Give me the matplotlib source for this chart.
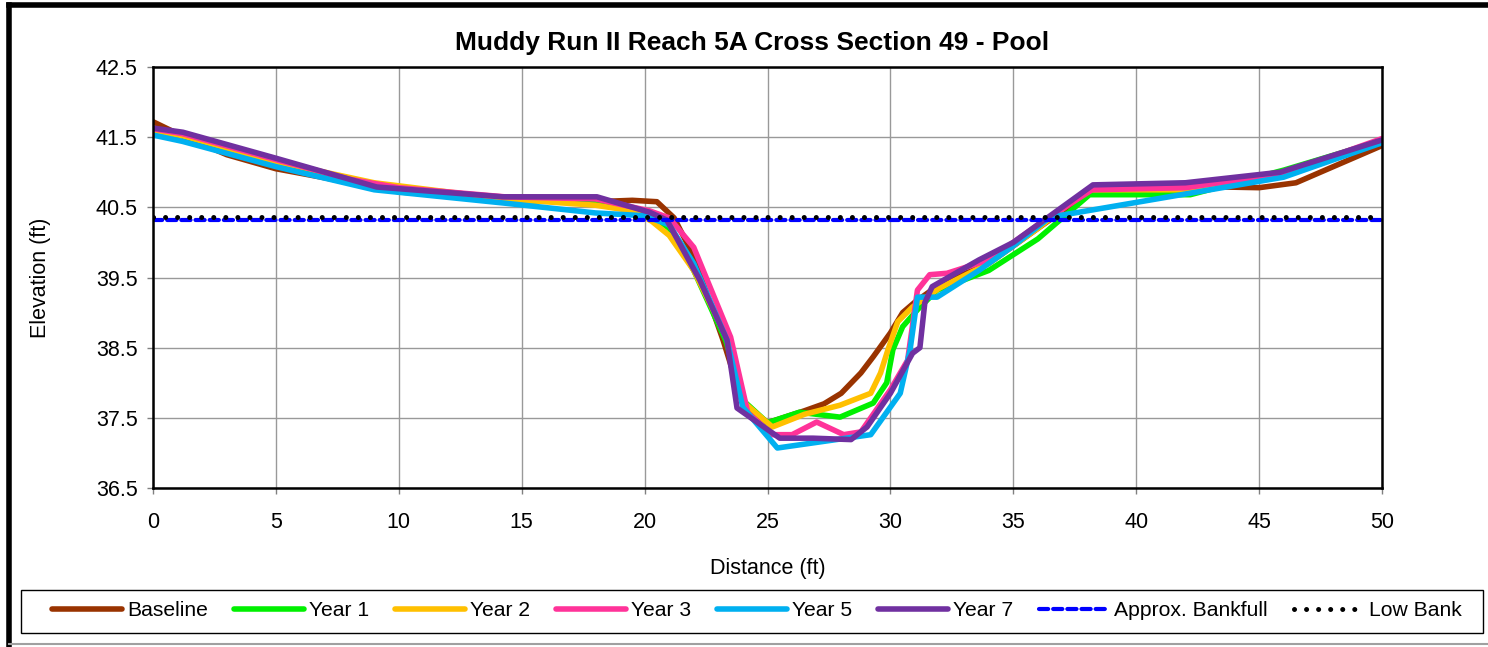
import matplotlib
matplotlib.use('Agg')
import matplotlib.pyplot as plt
from matplotlib.lines import Line2D
from matplotlib.patches import Rectangle

plt.rcParams['font.family'] = ['Liberation Sans', 'DejaVu Sans']

TITLE = 'Muddy Run II Reach 5A Cross Section 49 - Pool'

# station (ft) / elevation (ft) pairs for each survey
base_x = [0, 1, 3, 5, 7, 9, 12, 15, 18, 19.5, 20.5, 21.2, 22, 23.2, 24, 25, 26.5, 27.3, 28,
          28.8, 29.3, 30, 30.5, 31, 32, 34, 36, 38.2, 42, 45, 46.5, 50]
base_y = [41.72, 41.55, 41.25, 41.05, 40.92, 40.78, 40.68, 40.6, 40.58, 40.6, 40.58, 40.35,
          39.8, 38.6, 37.7, 37.43, 37.6, 37.7, 37.85, 38.14, 38.37, 38.71, 39.0, 39.15, 39.4,
          39.7, 40.2, 40.75, 40.8, 40.78, 40.85, 41.38]

y1_x = [0, 1.2, 5, 8, 10, 14.3, 18, 20, 21, 22, 23.3, 24, 25, 26.3, 27.95, 29.3, 29.85, 30.1,
        30.5, 31.1, 31.9, 34, 36, 38.1, 42.2, 46, 50]
y1_y = [41.6, 41.52, 41.15, 40.88, 40.72, 40.6, 40.58, 40.45, 40.2, 39.6, 38.6, 37.75, 37.43,
        37.58, 37.51, 37.71, 38.0, 38.47, 38.8, 39.04, 39.32, 39.6, 40.05, 40.68, 40.68,
        41.03, 41.45]

y2_x = [0, 1.2, 5, 9, 14.3, 18, 19.5, 20.3, 21, 22, 23.4, 24.1, 25.2, 26.5, 27.95, 29.2,
        29.6, 29.9, 30.3, 30.9, 32, 34, 36, 38, 42, 46, 50]
y2_y = [41.6, 41.52, 41.15, 40.85, 40.62, 40.53, 40.45, 40.3, 40.1, 39.6, 38.6, 37.7, 37.37,
        37.55, 37.68, 37.85, 38.14, 38.47, 38.87, 39.08, 39.35, 39.7, 40.2, 40.75, 40.75,
        41.0, 41.45]

y3_x = [0, 1.2, 5, 8, 10, 14.3, 18, 20.2, 21, 22, 23.5, 24.2, 25.2, 26, 27, 28.1, 28.8, 30,
        30.7, 31.1, 31.6, 32.3, 34, 36, 38.2, 42, 46, 50]
y3_y = [41.62, 41.55, 41.18, 40.9, 40.78, 40.65, 40.62, 40.45, 40.35, 39.93, 38.65, 37.57,
        37.26, 37.26, 37.44, 37.26, 37.3, 37.9, 38.32, 39.32, 39.54, 39.56, 39.75, 40.25,
        40.75, 40.78, 40.98, 41.48]

y5_x = [0, 1.2, 5, 9, 14.3, 18, 20, 21, 22, 23.35, 24, 25.4, 29.2, 30.4, 30.8, 31.1, 31.9,
        33.6, 35, 36.5, 46, 50]
y5_y = [41.53, 41.44, 41.08, 40.75, 40.56, 40.42, 40.38, 40.25, 39.7, 38.61, 37.65, 37.07,
        37.26, 37.85, 38.47, 39.22, 39.22, 39.6, 39.95, 40.36, 40.93, 41.42]

y7_x = [0, 1.22, 5, 9.1, 14.2, 18.06, 20.2, 20.9, 22.25, 23.35, 23.76, 25.5, 26.85, 28.4,
        29.05, 30, 30.9, 31.2, 31.4, 31.7, 33.6, 35, 38.24, 42, 45.85, 50]
y7_y = [41.63, 41.57, 41.2, 40.79, 40.65, 40.65, 40.43, 40.32, 39.46, 38.61, 37.64, 37.21,
        37.21, 37.19, 37.37, 37.85, 38.42, 38.5, 39.14, 39.37, 39.75, 40.0, 40.82, 40.85,
        41.0, 41.46]

bankfull_x = [0, 50]
bankfull_y = [40.32, 40.32]
lowbank_x = [0, 50]
lowbank_y = [40.36, 40.36]

series = [
    ('Baseline', base_x, base_y, '#993300'),
    ('Year 1', y1_x, y1_y, '#00F000'),
    ('Year 2', y2_x, y2_y, '#FFC000'),
    ('Year 3', y3_x, y3_y, '#FF3399'),
    ('Year 5', y5_x, y5_y, '#00B0F0'),
    ('Year 7', y7_x, y7_y, '#7030A0'),
]

W, H = 1488, 647
fig = plt.figure(figsize=(W / 100, H / 100), dpi=100)
ax = fig.add_axes([153 / W, 1 - 488 / H, (1382 - 153) / W, (488 - 67) / H])

for name, xs, ys, c in series:
    ax.plot(xs, ys, '-', color=c, lw=4.0, label=name,
            solid_joinstyle='round', solid_capstyle='round')

ax.plot(bankfull_x, bankfull_y, color='#0000FF', lw=3.0, label='Approx. Bankfull',
        linestyle=(0, (2.2, 1.2)), dash_capstyle='round')
ax.plot(lowbank_x, lowbank_y, color='black', lw=3.6, label='Low Bank',
        linestyle=(0, (0.01, 2.4)), dash_capstyle='round')

ax.set_xlim(0, 50)
ax.set_ylim(36.5, 42.5)
ax.set_xticks(range(0, 51, 5))
ax.set_yticks([36.5, 37.5, 38.5, 39.5, 40.5, 41.5, 42.5])
ax.set_yticklabels(['%.1f' % v for v in ax.get_yticks()])
ax.grid(True, color='#999999', lw=1.0)
ax.set_axisbelow(True)
for s in ax.spines.values():
    s.set_linewidth(1.8)
    s.set_color('black')
ax.tick_params(axis='both', labelsize=15.5, length=4, width=1, color='#808080')
ax.tick_params(axis='y', pad=7)
ax.tick_params(axis='x', pad=13)

ax.set_title(TITLE, fontsize=19, fontweight='bold', pad=12, x=(752 - 153) / 1229)
ax.set_xlabel('Distance (ft)', fontsize=15.5, labelpad=18)
ax.set_ylabel('Elevation (ft)', fontsize=15.5, labelpad=32)

# legend box sits below the plot area
fig.add_artist(Rectangle((21 / W, 1 - 633 / H), (1483 - 21) / W, 43 / H, fill=False,
                         edgecolor='black', lw=1.0, transform=fig.transFigure))
handles, labels = ax.get_legend_handles_labels()
fig.legend(handles, labels, ncol=8, loc='center', bbox_to_anchor=(757 / W, 1 - 611 / H),
           fontsize=15.2, handlelength=3.3, handletextpad=0.25, columnspacing=1.23,
           frameon=False, borderaxespad=0)

# outer chart frame: heavy left/top edge, light bottom edge
fig.add_artist(Line2D([9 / W, 9 / W], [0, 1 - 5 / H], color='black', lw=4,
                      transform=fig.transFigure, solid_capstyle='projecting'))
fig.add_artist(Line2D([9 / W, 1], [1 - 5 / H, 1 - 5 / H], color='black', lw=4,
                      transform=fig.transFigure, solid_capstyle='projecting'))
fig.add_artist(Line2D([9 / W, 1], [3 / H, 3 / H], color='#A0A0A0', lw=1.5,
                      transform=fig.transFigure))

fig.savefig('out.png', dpi=100)
